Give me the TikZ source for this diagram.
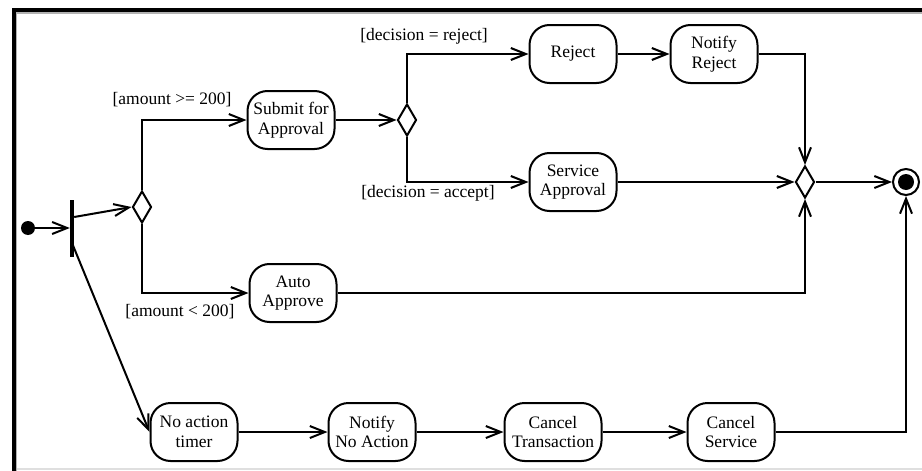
\documentclass[tikz,border=0pt]{standalone}
\usepackage{fontspec}
\setmainfont{Liberation Serif}
\usetikzlibrary{shapes.geometric,arrows.meta}
\begin{document}
\begin{tikzpicture}[x=1pt,y=-1pt,font=\fontsize{17.5}{19.5}\selectfont,
    action/.style ={draw,line width=2pt,rounded corners=20pt,minimum width=87pt,minimum height=58pt,align=center,inner sep=1pt},
    choice/.style ={diamond,draw,line width=2pt,minimum width=19pt,minimum height=32pt,inner sep=0pt},
    final/.style ={circle,draw,line width=2pt,minimum size=26pt,inner sep=0pt,
      path picture={\fill (path picture bounding box.center) circle (8pt);}},
    flow/.style ={line width=2pt,-{Straight Barb[length=15pt,width=12pt]}}]
  \useasboundingbox (0,0) rectangle (922,471);
  \draw[gray!25,line width=2pt] (15,469) -- (922,469);
  \draw[gray!60,line width=1.5pt] (16.5,471) -- (16.5,13) -- (922,13);
  \draw[line width=4pt] (13.5,471) -- (13.5,10) -- (922,10);

  \node[circle,fill,minimum size=14pt,inner sep=0pt] (init) at (28,228) {};
  \node[fill,minimum width=4pt,minimum height=57pt,inner sep=0pt] (fork) at (72,228) {};
  \node[choice] (dec1) at (142,207) {};
  \node[action] (submit) at (291,120) {Submit for\\Approval};
  \node[choice] (dec2) at (407,120) {};
  \node[action] (reject) at (573,54) {Reject};
  \node[action] (svcok) at (573,182) {Service\\Approval};
  \node[action] (notrej) at (714,54) {Notify\\Reject};
  \node[choice] (merge) at (805,182) {};
  \node[final] (final) at (906,182) {};
  \node[action] (auto) at (293,293) {Auto\\Approve};
  \node[action] (timer) at (194,432) {No action\\timer};
  \node[action] (notact) at (372,432) {Notify\\No Action};
  \node[action,minimum width=97pt] (canctr) at (553,432) {Cancel\\Transaction};
  \node[action] (cancsvc) at (731,432) {Cancel\\Service};

  \node (amthi) at (172,100) {[amount >= 200]};
  \node (amtlo) at (180,312) {[amount < 200]};
  \node (decrej) at (424,36) {[decision = reject]};
  \node (decacc) at (428,193) {[decision = accept]};

  \draw[flow] (init) -- (fork);
  \draw[flow] ([yshift=11pt]fork.east) -- (dec1.west);
  \draw[flow] ([yshift=-15pt]fork.center) -- (timer.west);
  \draw[flow] (dec1.north) |- (submit.west);
  \draw[flow] (dec1.south) |- (auto.west);
  \draw[flow] (submit) -- (dec2);
  \draw[flow] (dec2.north) |- (reject.west);
  \draw[flow] (dec2.south) |- (svcok.west);
  \draw[flow] (reject) -- (notrej);
  \draw[flow] (notrej.east) -| (merge.north);
  \draw[flow] (svcok) -- (merge);
  \draw[flow] (auto.east) -| (merge.south);
  \draw[flow] (merge) -- (final);
  \draw[flow] (timer) -- (notact);
  \draw[flow] (notact) -- (canctr);
  \draw[flow] (canctr) -- (cancsvc);
  \draw[flow] (cancsvc.east) -| (final.south);
\end{tikzpicture}
\end{document}
